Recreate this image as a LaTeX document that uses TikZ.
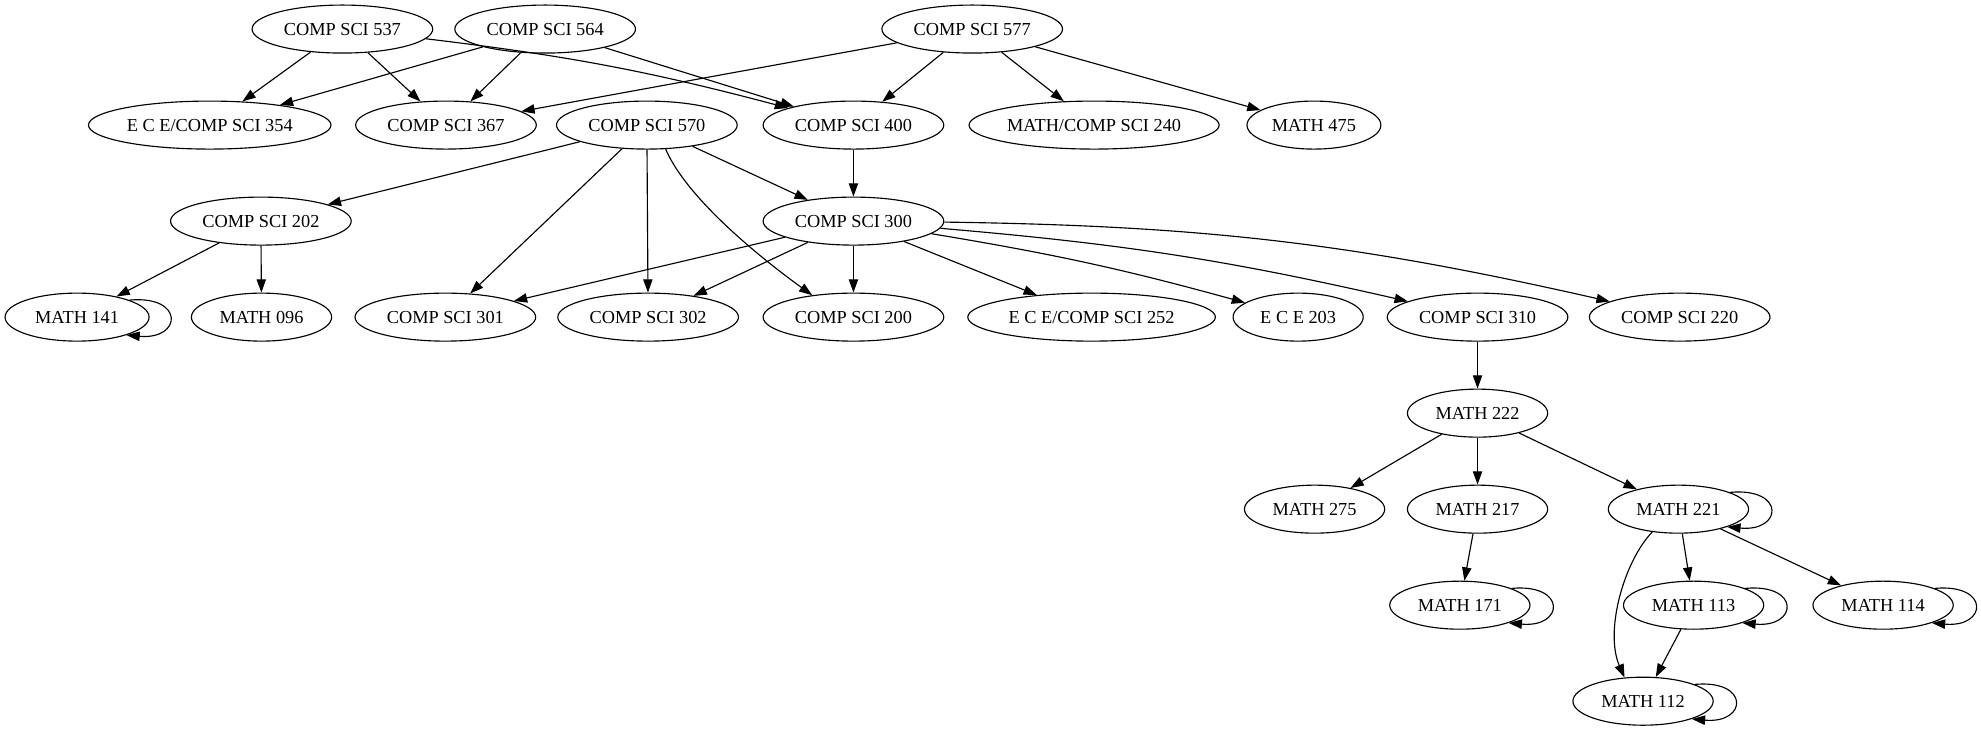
\documentclass[tikz,border=0pt]{standalone}
\usepackage{fontspec}
\setmainfont{Liberation Serif}
\usetikzlibrary{shapes.geometric,arrows.meta}
\begin{document}
\begin{tikzpicture}[x=1pt,y=-1pt,
  nd/.style={draw, ellipse, inner sep=0pt, minimum height=38pt, line width=0.9pt, font=\fontsize{14.5}{17}\selectfont},
  cs/.style={nd, minimum width=143pt},
  mt/.style={nd, minimum width=111pt},
  arr/.style={line width=0.9pt, -{Triangle[length=10.5pt,width=7.4pt]}}]
\useasboundingbox (0,0) rectangle (1568,579);
% nodes
\node[cs] (c537) at (271,23) {COMP SCI 537};
\node[cs] (c564) at (431.5,23) {COMP SCI 564};
\node[cs] (c577) at (769.5,23) {COMP SCI 577};
\node[nd, minimum width=192pt] (e354) at (166,99) {E C E/COMP SCI 354};
\node[cs] (c367) at (353,99) {COMP SCI 367};
\node[cs] (c570) at (512,99) {COMP SCI 570};
\node[cs] (c400) at (675.5,99) {COMP SCI 400};
\node[nd, minimum width=198pt] (m240) at (866,99) {MATH/COMP SCI 240};
\node[nd, minimum width=106pt] (m475) at (1040,99) {MATH 475};
\node[cs] (c202) at (206.5,175) {COMP SCI 202};
\node[cs] (c300) at (675.5,175) {COMP SCI 300};
\node[nd, minimum width=114pt] (m141) at (61,251) {MATH 141};
\node[mt] (m096) at (207,251) {MATH 096};
\node[cs] (c301) at (352.5,251) {COMP SCI 301};
\node[cs] (c302) at (513,251) {COMP SCI 302};
\node[cs] (c200) at (675.5,251) {COMP SCI 200};
\node[nd, minimum width=196pt] (e252) at (864,251) {E C E/COMP SCI 252};
\node[nd, minimum width=103pt] (e203) at (1027.5,251) {E C E 203};
\node[cs] (c310) at (1169.5,251) {COMP SCI 310};
\node[cs] (c220) at (1329.5,251) {COMP SCI 220};
\node[mt] (m222) at (1169.5,327) {MATH 222};
\node[mt] (m275) at (1040.5,403) {MATH 275};
\node[mt] (m217) at (1169.5,403) {MATH 217};
\node[mt] (m221) at (1328.5,403) {MATH 221};
\node[mt] (m171) at (1155.5,479) {MATH 171};
\node[mt] (m113) at (1340.5,479) {MATH 113};
\node[mt] (m114) at (1490.5,479) {MATH 114};
\node[mt] (m112) at (1300.5,555) {MATH 112};
% edges
\draw[arr] (c537) -- (e354);
\draw[arr] (c537) -- (c367);
\draw[arr] (c537) to[bend left=4] (c400);
\draw[arr] (c564) -- (e354);
\draw[arr] (c564) -- (c367);
\draw[arr] (c564) -- (c400);
\draw[arr] (c577) -- (c367);
\draw[arr] (c577) -- (c400);
\draw[arr] (c577) -- (m240);
\draw[arr] (c577) -- (m475);
\draw[arr] (c570) -- (c202);
\draw[arr] (c570) -- (c301);
\draw[arr] (c570) -- (c302);
\draw[arr] (c570.-52) .. controls (545,160) and (610,210) .. (c200.152);
\draw[arr] (c570) -- (c300);
\draw[arr] (c400) -- (c300);
\draw[arr] (c202) -- (m141);
\draw[arr] (c202) -- (m096);
\draw[arr] (c300) -- (c301);
\draw[arr] (c300) -- (c302);
\draw[arr] (c300) -- (c200);
\draw[arr] (c300) -- (e252);
\draw[arr] (c300) to[bend left=3] (e203);
\draw[arr] (c300) to[bend left=4] (c310);
\draw[arr] (c300) to[bend left=6] (c220);
\draw[arr] (c310) -- (m222);
\draw[arr] (m222) -- (m275);
\draw[arr] (m222) -- (m217);
\draw[arr] (m222) -- (m221);
\draw[arr] (m217) -- (m171);
\draw[arr] (m221) -- (m113);
\draw[arr] (m221) -- (m114);
\draw[arr] (m221.-139) .. controls (1285,445) and (1270,500) .. (m112.128);
\draw[arr] (m113) -- (m112);
% self loops
\foreach \n in {m141,m221,m171,m113,m114,m112}
  \draw[arr] (\n.18) .. controls +(44,-4) and +(44,4) .. (\n.-20);
\end{tikzpicture}
\end{document}
